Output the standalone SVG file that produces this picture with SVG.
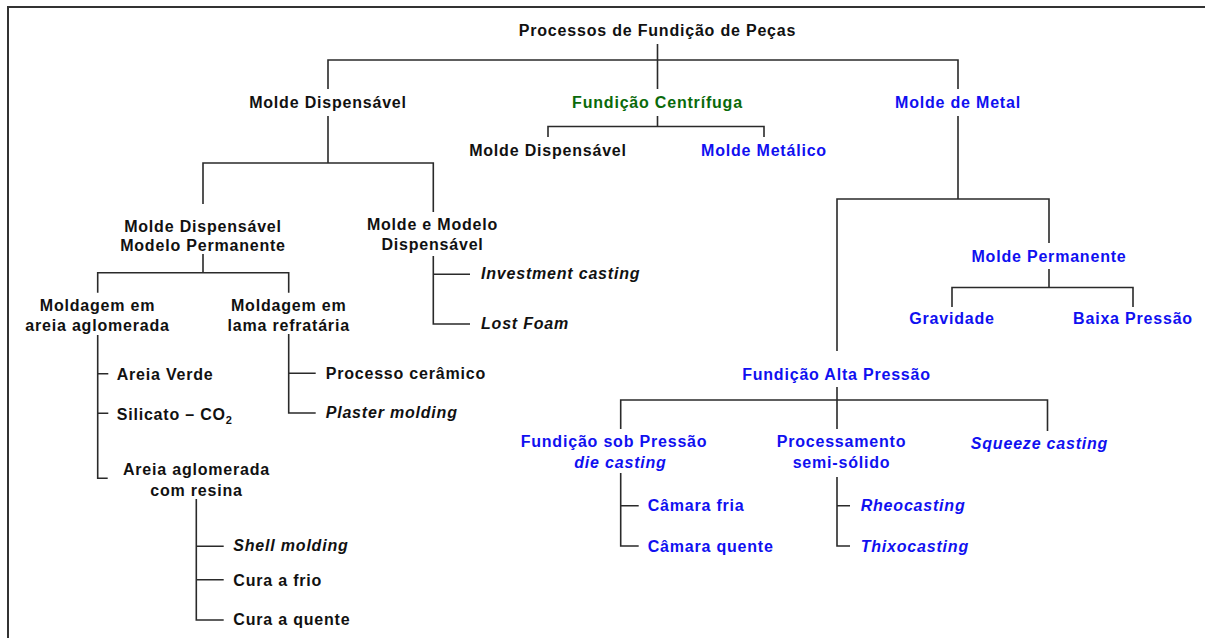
<svg xmlns="http://www.w3.org/2000/svg" width="1205" height="638" viewBox="0 0 1205 638">
  <style>
    text { font-family: "Liberation Sans", Arial, sans-serif; font-size: 16px; font-weight: bold; letter-spacing: 0.8px; fill: #111; }
    .c { text-anchor: middle; }
    .blue { fill: #1010f0; }
    .green { fill: #0a6a0a; }
    .it { font-style: italic; }
    .ln { fill: none; stroke: #2a2a2a; stroke-width: 1.6; }
    .frame { fill: none; stroke: #333; stroke-width: 2; }
  </style>
  <rect width="1205" height="638" fill="#fff"/>
  <path class="frame" d="M8,640 V7 H1207"/>

  <g id="connectors">
    <!-- root -->
    <path class="ln" d="M657.5,44 V89 M328,89 V60 H958 V89"/>
    <!-- Molde Dispensavel -->
    <path class="ln" d="M328,116 V163 M203,204 V163 H433.3 V212"/>
    <!-- Fundicao Centrifuga -->
    <path class="ln" d="M657.5,116 V126.5 M548,137 V126.5 H764 V137"/>
    <!-- Molde de Metal -->
    <path class="ln" d="M958,116 V199 M837,351 V199 H1049 V243"/>
    <!-- Molde Permanente -->
    <path class="ln" d="M1049,269 V287.5 M952,307 V287.5 H1133 V307"/>
    <!-- Fundicao Alta Pressao -->
    <path class="ln" d="M837,387 V429 M620.7,429 V400 H1047.5 V431"/>
    <!-- die casting -->
    <path class="ln" d="M620.7,473 V546 H638.7 M620.7,505.7 H638.7"/>
    <!-- semi-solido -->
    <path class="ln" d="M837,477 V546 H850 M837,505.7 H850"/>
    <!-- Molde Dispensavel / Modelo Permanente -->
    <path class="ln" d="M203,254 V272.7 M97.7,292.7 V272.7 H288.7 V292.7"/>
    <!-- Molde e Modelo Dispensavel -->
    <path class="ln" d="M433.3,256 V324 H470 M433.3,274.3 H470"/>
    <!-- areia aglomerada -->
    <path class="ln" d="M97.7,335 V478.3 H107.7 M97.7,373.7 H108.3 M97.7,413.3 H108.3"/>
    <!-- lama refrataria -->
    <path class="ln" d="M288.7,334 V413 H315.7 M288.7,373.3 H315.7"/>
    <!-- com resina -->
    <path class="ln" d="M196.3,499 V620 H223.7 M196.3,546.3 H223.7 M196.3,579.7 H223.7"/>
  </g>

  <g id="root"><text class="c" x="657.5" y="35.5">Processos de Fundição de Peças</text></g>

  <g id="molde-dispensavel"><text class="c" x="328" y="108">Molde Dispensável</text></g>
  <g id="fundicao-centrifuga"><text class="c green" x="657.5" y="108">Fundição Centrífuga</text></g>
  <g id="molde-de-metal"><text class="c blue" x="958" y="108">Molde de Metal</text></g>

  <g id="centrifuga-molde-dispensavel"><text class="c" x="548" y="156">Molde Dispensável</text></g>
  <g id="centrifuga-molde-metalico"><text class="c blue" x="764" y="156">Molde Metálico</text></g>

  <g id="modelo-permanente">
    <text class="c" x="203" y="231.5">Molde Dispensável</text>
    <text class="c" x="203" y="250.5">Modelo Permanente</text>
  </g>
  <g id="modelo-dispensavel">
    <text class="c" x="432.5" y="229.5">Molde e Modelo</text>
    <text class="c" x="432.5" y="249.5">Dispensável</text>
  </g>
  <g id="investment-casting"><text class="it" x="481" y="279.3">Investment casting</text></g>
  <g id="lost-foam"><text class="it" x="481" y="328.7">Lost Foam</text></g>

  <g id="areia-aglomerada">
    <text class="c" x="97.5" y="311">Moldagem em</text>
    <text class="c" x="97.5" y="331">areia aglomerada</text>
  </g>
  <g id="lama-refrataria">
    <text class="c" x="288.7" y="311">Moldagem em</text>
    <text class="c" x="288.7" y="331">lama refratária</text>
  </g>

  <g id="areia-verde"><text x="116.7" y="380">Areia Verde</text></g>
  <g id="silicato-co2"><text x="116.7" y="419.5">Silicato – CO<tspan font-size="11" dy="4">2</tspan></text></g>
  <g id="areia-resina">
    <text class="c" x="196.5" y="475">Areia aglomerada</text>
    <text class="c" x="196.5" y="495.5">com resina</text>
  </g>
  <g id="shell-molding"><text class="it" x="233.3" y="550.7">Shell molding</text></g>
  <g id="cura-frio"><text x="233.3" y="585.7">Cura a frio</text></g>
  <g id="cura-quente"><text x="233.3" y="625">Cura a quente</text></g>

  <g id="processo-ceramico"><text x="325.7" y="379.3">Processo cerâmico</text></g>
  <g id="plaster-molding"><text class="it" x="325.7" y="418.3">Plaster molding</text></g>

  <g id="molde-permanente"><text class="c blue" x="1049" y="261.7">Molde Permanente</text></g>
  <g id="gravidade"><text class="c blue" x="952" y="324.3">Gravidade</text></g>
  <g id="baixa-pressao"><text class="c blue" x="1133" y="324.3">Baixa Pressão</text></g>

  <g id="alta-pressao"><text class="c blue" x="836.5" y="379.7">Fundição Alta Pressão</text></g>
  <g id="sob-pressao">
    <text class="c blue" x="614" y="447.3">Fundição sob Pressão</text>
    <text class="c blue it" x="620.5" y="468.3">die casting</text>
  </g>
  <g id="semi-solido">
    <text class="c blue" x="841.5" y="447.3">Processamento</text>
    <text class="c blue" x="841.5" y="468.3">semi-sólido</text>
  </g>
  <g id="squeeze-casting"><text class="c blue it" x="1039.5" y="449.3">Squeeze casting</text></g>

  <g id="camara-fria"><text class="blue" x="647.7" y="510.7">Câmara fria</text></g>
  <g id="camara-quente"><text class="blue" x="647.7" y="551.7">Câmara quente</text></g>
  <g id="rheocasting"><text class="blue it" x="860.7" y="510.7">Rheocasting</text></g>
  <g id="thixocasting"><text class="blue it" x="860.7" y="551.7">Thixocasting</text></g>
</svg>
